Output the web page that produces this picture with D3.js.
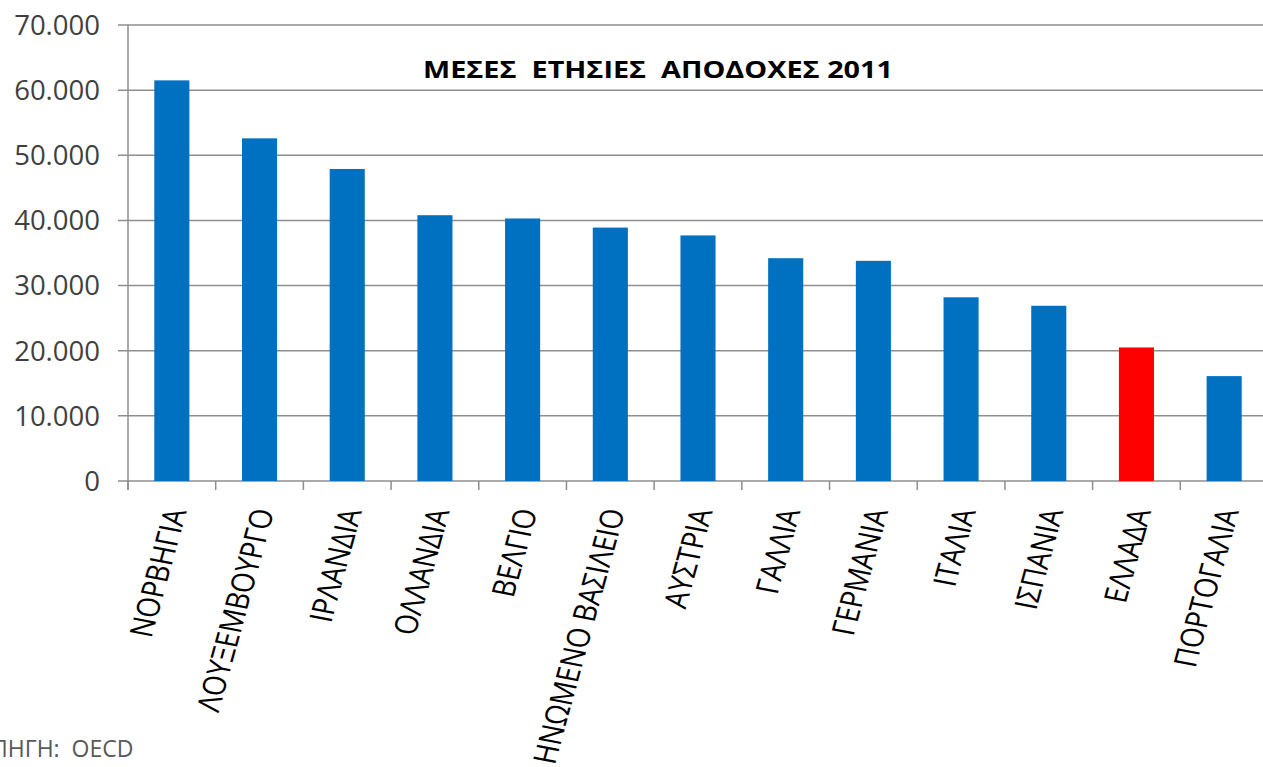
<!DOCTYPE html>
<html>
<head>
<meta charset="utf-8">
<script src="https://cdn.jsdelivr.net/npm/d3@7"></script>
<style>
  html, body { margin: 0; padding: 0; background: #ffffff; overflow: hidden; }
  svg { display: block; }
</style>
</head>
<body>
<svg id="chart" width="1263" height="767"></svg>
<script>
const categories = ["ΝΟΡΒΗΓΙΑ", "ΛΟΥΞΕΜΒΟΥΡΓΟ", "ΙΡΛΑΝΔΙΑ", "ΟΛΛΑΝΔΙΑ", "ΒΕΛΓΙΟ", "ΗΝΩΜΕΝΟ ΒΑΣΙΛΕΙΟ", "ΑΥΣΤΡΙΑ", "ΓΑΛΛΙΑ", "ΓΕΡΜΑΝΙΑ", "ΙΤΑΛΙΑ", "ΙΣΠΑΝΙΑ", "ΕΛΛΑΔΑ", "ΠΟΡΤΟΓΑΛΙΑ"];
const values = [61500, 52600, 47900, 40800, 40300, 38900, 37700, 34200, 33800, 28200, 26900, 20500, 16100];
const highlighted = ["ΕΛΛΑΔΑ"];
const yTicks = [0, 10000, 20000, 30000, 40000, 50000, 60000, 70000];
const yTickLabels = ["0", "10.000", "20.000", "30.000", "40.000", "50.000", "60.000", "70.000"];
const titleText = "ΜΕΣΕΣ  ΕΤΗΣΙΕΣ  ΑΠΟΔΟΧΕΣ 2011";
const sourceText = "ΠΗΓΗ:  OECD";

const data = categories.map((c, i) => ({ name: c, value: values[i] }));

const svg = d3.select("#chart");
const plotLeft = 128, plotRight = 1268, plotTop = 25, plotBottom = 481;

const x = d3.scaleBand().domain(categories).range([plotLeft, plotRight]).paddingInner(0.6).paddingOuter(0.3);
const y = d3.scaleLinear().domain([0, 70000]).range([plotBottom, plotTop]);

const gridColor = "#8e8e8e";

// gridlines with left tick marks
svg.append("g").selectAll("line").data(yTicks).join("line")
  .attr("x1", plotLeft - 10).attr("x2", 1263)
  .attr("y1", d => y(d)).attr("y2", d => y(d))
  .attr("stroke", gridColor).attr("stroke-width", 1.5);

// y axis line
svg.append("line")
  .attr("x1", plotLeft).attr("x2", plotLeft)
  .attr("y1", y(70000)).attr("y2", plotBottom + 9)
  .attr("stroke", gridColor).attr("stroke-width", 1.5);

// x tick marks at category boundaries
const boundaries = categories.map(c => x(c) - x.step() * x.paddingOuter());
svg.append("g").selectAll("line").data(boundaries).join("line")
  .attr("x1", d => d).attr("x2", d => d)
  .attr("y1", plotBottom).attr("y2", plotBottom + 9)
  .attr("stroke", gridColor).attr("stroke-width", 1.5);

// y tick labels
svg.append("g").selectAll("text").data(yTicks).join("text")
  .attr("x", 100).attr("y", d => y(d))
  .attr("dy", "0.36em")
  .attr("text-anchor", "end")
  .attr("font-family", "Open Sans")
  .attr("font-size", 27.5)
  .attr("fill", "#404040")
  .text((d, i) => yTickLabels[i]);

// bars
svg.append("g").selectAll("rect").data(data).join("rect")
  .attr("x", d => x(d.name))
  .attr("width", x.bandwidth())
  .attr("y", d => y(d.value))
  .attr("height", d => y(0) - y(d.value))
  .attr("fill", d => highlighted.includes(d.name) ? "#ff0000" : "#0070c0");

// x labels (slightly stretched horizontally like the reference)
svg.append("g").selectAll("text").data(data).join("text")
  .attr("transform", d => `translate(${x(d.name) + x.bandwidth() / 2 + 4},${509}) scale(1.2,1) rotate(-77)`)
  .attr("text-anchor", "end")
  .attr("dy", "0.35em")
  .attr("font-family", "Open Sans")
  .attr("font-size", 26.5)
  .attr("fill", "#000000")
  .text(d => d.name);

// title
svg.append("text")
  .attr("x", 423).attr("y", 78)
  .style("white-space", "pre")
  .attr("font-family", "Open Sans")
  .attr("font-weight", "bold")
  .attr("font-size", 24)
  .attr("textLength", 470)
  .attr("lengthAdjust", "spacingAndGlyphs")
  .attr("fill", "#000000")
  .text(titleText);

// source
svg.append("text")
  .attr("x", -9).attr("y", 757)
  .style("white-space", "pre")
  .attr("font-family", "Open Sans")
  .attr("font-size", 23)
  .attr("fill", "#595959")
  .text(sourceText);
</script>
</body>
</html>
